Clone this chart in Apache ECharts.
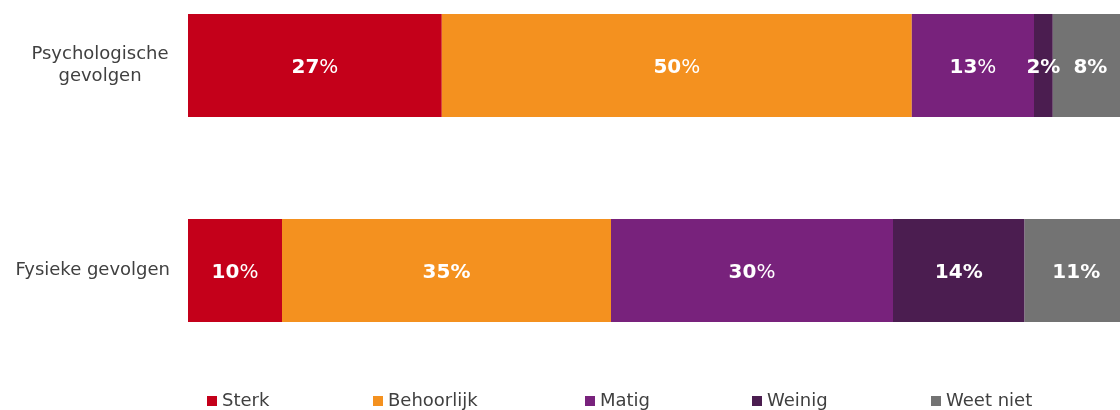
<!DOCTYPE html>
<html>
<head>
<meta charset="utf-8">
<script src="https://cdn.jsdelivr.net/npm/echarts@6/dist/echarts.min.js"></script>
<style>
  html, body { margin: 0; padding: 0; background: #fff; }
  #chart { width: 1120px; height: 410px; }
</style>
</head>
<body>
<div id="chart"></div>
<script>
// categorieen (van boven naar onder)
const categories = ['Psychologische gevolgen', 'Fysieke gevolgen']
const seriesNames = ['Sterk', 'Behoorlijk', 'Matig', 'Weinig', 'Weet niet']

// percentages per antwoord
const sterk = [27, 10]
const behoorlijk = [50, 35]
const matig = [13, 30]
const weinig = [2, 14]
const weetNiet = [8, 11]

const values = [sterk, behoorlijk, matig, weinig, weetNiet]
const colors = ['#C4001A', '#F4911F', '#78227C', '#4B1D50', '#737373']

// in het origineel staat het %-teken bij sommige labels niet vet
const lightPct = {
    'Sterk': [true, true],
    'Behoorlijk': [true, false],
    'Matig': [true, true],
    'Weinig': [false, false],
    'Weet niet': [false, false]
}

const font = 'DejaVu Sans, Verdana, sans-serif'

let myChart = echarts.init(document.getElementById('chart'))

const series = seriesNames.map((name, i) => ({
    name: name,
    type: 'bar',
    stack: 'total',
    barWidth: 103,
    data: values[i],
    itemStyle: { color: colors[i] },
    label: {
        show: true,
        position: 'inside',
        offset: [0, 2],
        formatter: p => lightPct[name][p.dataIndex]
            ? '{b|' + p.value + '}{n|%}'
            : '{b|' + p.value + '%}',
        rich: {
            b: { color: '#fff', fontFamily: font, fontSize: 20, fontWeight: 'bold' },
            n: { color: '#fff', fontFamily: font, fontSize: 20, fontWeight: 'normal' }
        }
    }
}))

// losse legenda's, zoals in het origineel niet gelijk verdeeld
const legendLeft = [207, 373, 585, 752, 931]
const legends = seriesNames.map((name, i) => ({
    data: [name],
    left: legendLeft[i],
    top: 392,
    padding: 0,
    icon: 'rect',
    itemWidth: 10,
    itemHeight: 10,
    selectedMode: false,
    textStyle: { color: '#404040', fontFamily: font, fontSize: 18 }
}))

const options = {
    animation: false,
    color: colors,
    legend: legends,
    grid: {
        left: 188,
        width: 940,
        top: -37,
        height: 410,
        outerBoundsMode: 'none'
    },
    xAxis: {
        type: 'value',
        min: 0,
        max: 100,
        show: false
    },
    yAxis: {
        type: 'category',
        inverse: true,
        data: categories,
        axisLine: { show: false },
        axisTick: { show: false },
        axisLabel: {
            margin: 18,
            color: '#404040',
            fontFamily: font,
            fontSize: 18,
            formatter: v => v === 'Psychologische gevolgen'
                ? '{c|Psychologische}\n{c|gevolgen}'
                : v,
            rich: {
                c: { width: 140, align: 'center', lineHeight: 22, color: '#404040', fontFamily: font, fontSize: 18 }
            }
        }
    },
    series: series
}
myChart.setOption(options)
</script>
</body>
</html>
